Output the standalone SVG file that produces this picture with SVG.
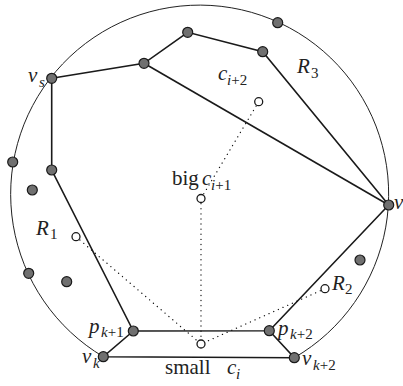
<svg xmlns="http://www.w3.org/2000/svg" width="403" height="386" viewBox="0 0 403 386" font-family="'Liberation Serif', serif">
<style>
.bound{fill:none;stroke:#222;stroke-width:1}
.edge{fill:none;stroke:#1a1a1a;stroke-width:1.6}
.dot{fill:none;stroke:#111;stroke-width:1.3;stroke-dasharray:0.1 5;stroke-linecap:round}
.pt{fill:#707070;stroke:#1a1a1a;stroke-width:1.2}
.op{fill:#fff;stroke:#1a1a1a;stroke-width:1.3}
text{font-family:'Liberation Serif',serif;fill:#222}
.m{font-size:21px;font-style:italic}
.s{font-size:15px}
.si{font-size:15px;font-style:italic}
.r{font-size:21px}
</style>
<rect width="403" height="386" fill="#fff"/>
<path class="bound" d="M103.3,356.7 A189,189 0 1 1 294.3,357.7"/>
<g id="connectors">
<polyline class="edge" points="51.7,78.3 144,63.3 187.7,32.3 262.7,51.7 388.7,205"/>
<line class="edge" x1="144" y1="63.3" x2="388.7" y2="205"/>
<polyline class="edge" points="51.7,78.3 51.7,170 133.3,331 269.3,330.7 388.7,205"/>
<polyline class="edge" points="133.3,331 103.3,356.7 294.3,357.7 269.3,330.7"/>
<line class="dot" x1="258.7" y1="101.7" x2="201" y2="198.5"/>
<line class="dot" x1="201" y1="198.5" x2="201" y2="344"/>
<line class="dot" x1="76" y1="236.7" x2="201" y2="344"/>
<line class="dot" x1="325" y1="288.7" x2="201" y2="344"/>
</g>
<g id="vs"><circle class="pt" cx="51.7" cy="78.3" r="5"/><text x="28" y="82" class="m">v</text><text x="39" y="87" class="si">s</text></g>
<g id="n1"><circle class="pt" cx="144" cy="63.3" r="5"/></g>
<g id="n2"><circle class="pt" cx="187.7" cy="32.3" r="5"/></g>
<g id="n3"><circle class="pt" cx="262.7" cy="51.7" r="5"/></g>
<g id="n4"><circle class="pt" cx="277.7" cy="22.7" r="5"/></g>
<g id="v"><circle class="pt" cx="388.7" cy="205" r="5"/><text x="394" y="209" class="m">v</text></g>
<g id="n5"><circle class="pt" cx="51.7" cy="170" r="5"/></g>
<g id="n6"><circle class="pt" cx="12.7" cy="162" r="5"/></g>
<g id="n7"><circle class="pt" cx="32.3" cy="190" r="5"/></g>
<g id="n8"><circle class="pt" cx="28.7" cy="273.3" r="5"/></g>
<g id="n9"><circle class="pt" cx="66.7" cy="281.7" r="5"/></g>
<g id="n10"><circle class="pt" cx="360" cy="260" r="5"/></g>
<g id="pk1"><circle class="pt" cx="133.3" cy="331" r="5"/><text x="89" y="333" class="m">p</text><text x="101" y="337" class="si">k<tspan font-style="normal">+1</tspan></text></g>
<g id="pk2"><circle class="pt" cx="269.3" cy="330.7" r="5"/><text x="278" y="335" class="m">p</text><text x="290" y="339" class="si">k<tspan font-style="normal">+2</tspan></text></g>
<g id="vk"><circle class="pt" cx="103.3" cy="356.7" r="5"/><text x="82" y="363" class="m">v</text><text x="93" y="368" class="si">k</text></g>
<g id="vk2"><circle class="pt" cx="294.3" cy="357.7" r="5"/><text x="302" y="365" class="m">v</text><text x="313" y="370" class="si">k<tspan font-style="normal">+2</tspan></text></g>
<g id="ci2"><circle class="op" cx="258.7" cy="101.7" r="4"/><text x="218" y="80" class="m">c</text><text x="227" y="85" class="si">i<tspan font-style="normal">+2</tspan></text></g>
<g id="ci1"><circle class="op" cx="201" cy="198.5" r="4"/><text x="172" y="185" class="r">big</text><text x="202" y="185" class="m">c</text><text x="211" y="190" class="si">i<tspan font-style="normal">+1</tspan></text></g>
<g id="ci"><circle class="op" cx="201" cy="344" r="4"/><text x="165" y="374" class="r">small</text><text x="227" y="374" class="m">c</text><text x="236" y="379" class="si">i</text></g>
<g id="R1"><circle class="op" cx="76" cy="236.7" r="4"/><text x="36" y="235" class="m">R</text><text x="50" y="239" class="s">1</text></g>
<g id="R2"><circle class="op" cx="325" cy="288.7" r="4"/><text x="332" y="290" class="m">R</text><text x="345" y="294" class="s">2</text></g>
<g id="R3"><text x="297" y="73" class="m">R</text><text x="311" y="78" class="s">3</text></g>
</svg>
